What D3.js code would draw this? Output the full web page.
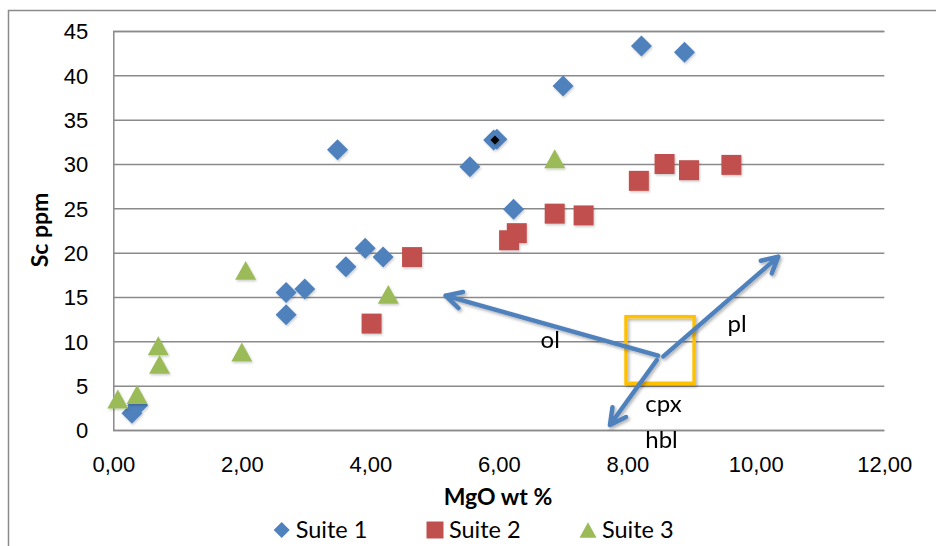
<!DOCTYPE html>
<html>
<head>
<meta charset="utf-8">
<script src="https://cdn.jsdelivr.net/npm/d3@7"></script>
<style>
  html, body { margin: 0; padding: 0; background: #fff; }
  svg { display: block; font-family: Lato, "Open Sans", sans-serif; }
</style>
</head>
<body>
<svg id="chart" width="936" height="546"></svg>
<script>
// Sc vs MgO for three suites
const suite1X = [0.29, 0.38, 2.69, 2.69, 2.98, 3.49, 3.62, 3.92, 4.20, 5.55, 5.92, 5.97, 6.23, 7.00, 8.22, 8.89];
const suite1Y = [1.9, 2.8, 15.5, 13.0, 15.9, 31.6, 18.4, 20.5, 19.5, 29.7, 32.7, 32.8, 24.9, 38.8, 43.3, 42.6];
const suite2X = [4.02, 4.65, 6.16, 6.28, 6.87, 7.32, 8.18, 8.58, 8.96, 9.62];
const suite2Y = [12.0, 19.5, 21.4, 22.2, 24.4, 24.2, 28.1, 30.0, 29.3, 29.9];
const suite3X = [0.07, 0.37, 0.70, 0.72, 2.00, 2.06, 4.28, 6.87];
const suite3Y = [3.5, 4.0, 9.5, 7.4, 8.8, 18.0, 15.3, 30.6];
// highlighted sample
const markedX = [5.94];
const markedY = [32.7];

const seriesNames = ["Suite 1", "Suite 2", "Suite 3"];
const xTicks = [0, 2, 4, 6, 8, 10, 12];
const yTicks = [0, 5, 10, 15, 20, 25, 30, 35, 40, 45];

// fractionation vectors (MgO, Sc)
const vectorFromX = [8.48, 8.56, 8.46];
const vectorFromY = [8.38, 8.30, 7.90];
const vectorToX = [5.17, 10.35, 7.73];
const vectorToY = [15.15, 19.55, 0.56];
const vectorLabels = ["ol", "pl", "cpx", "hbl"];
const vectorLabelX = [6.65, 9.56, 8.28, 8.28];
const vectorLabelY = [9.25, 11.09, 2.06, -2.03];
// starting composition box
const boxX = [7.98, 9.04];
const boxY = [5.27, 12.78];

const colors = ["#4F81BD", "#C0504D", "#9BBB59"];

const svg = d3.select("#chart");
const x = d3.scaleLinear().domain([0, 12]).range([113.3, 884.3]);
const y = d3.scaleLinear().domain([0, 45]).range([430, 31]);
const fmt = d3.formatLocale({decimal: ",", thousands: ".", grouping: [3], currency: ["", ""]}).format(".2f");

const defs = svg.append("defs");
const sh = defs.append("filter").attr("id", "shadow").attr("x", "-20%").attr("y", "-20%").attr("width", "140%").attr("height", "140%");
sh.append("feDropShadow").attr("dx", 1.5).attr("dy", 2).attr("stdDeviation", 1.8).attr("flood-color", "#000").attr("flood-opacity", 0.3);
const msh = defs.append("filter").attr("id", "mshadow").attr("x", "-30%").attr("y", "-30%").attr("width", "160%").attr("height", "160%");
msh.append("feDropShadow").attr("dx", 1).attr("dy", 1.5).attr("stdDeviation", 1).attr("flood-color", "#000").attr("flood-opacity", 0.2);

// chart frame
svg.append("rect").attr("x", 8.5).attr("y", 10.5).attr("width", 940).attr("height", 560)
  .attr("fill", "none").attr("stroke", "#8a8a8a").attr("stroke-width", 1.5);

// gridlines
const yAxis = d3.axisLeft(y).tickValues(yTicks).tickSize(-(x.range()[1] - x.range()[0])).tickPadding(25).tickFormat(d3.format("d"));
const gy = svg.append("g").attr("transform", `translate(${x.range()[0]},0)`).call(yAxis);
gy.select(".domain").attr("stroke", "#8a8a8a").attr("stroke-width", 1.5);
gy.selectAll(".tick line").attr("stroke", "#8a8a8a").attr("stroke-width", 1.5);
gy.selectAll(".tick text").attr("font-size", 22).attr("fill", "#000").attr("dy", "0.36em");

const xAxis = d3.axisBottom(x).tickValues(xTicks).tickSize(0).tickPadding(26).tickFormat(fmt);
const gx = svg.append("g").attr("transform", `translate(0,${y(0)})`).call(xAxis);
gx.select(".domain").remove();
gx.selectAll(".tick text").attr("font-size", 22).attr("fill", "#000");

// axis titles
svg.append("text").attr("transform", `translate(48,230) rotate(-90)`).attr("text-anchor", "middle")
  .attr("font-size", 23).attr("font-weight", "bold").text("Sc ppm");
svg.append("text").attr("x", 498).attr("y", 505).attr("text-anchor", "middle")
  .attr("font-size", 23).attr("font-weight", "bold").text("MgO wt %");

// marker symbols
const diamond = s => `M0,${-s}L${s},0L0,${s}L${-s},0Z`;
const square = s => `M${-s},${-s}H${s}V${s}H${-s}Z`;
const triangle = s => `M0,${-s * 0.9}L${s},${s * 0.9}L${-s},${s * 0.9}Z`;

function plotSeries(xs, ys, path, color) {
  svg.append("g").attr("filter", "url(#mshadow)").selectAll("path").data(xs).join("path")
    .attr("transform", (d, i) => `translate(${x(d)},${y(ys[i])})`)
    .attr("d", path).attr("fill", color);
}
plotSeries(suite1X, suite1Y, diamond(10.5), colors[0]);
plotSeries(markedX, markedY, diamond(4.5), "#000");
plotSeries(suite2X, suite2Y, square(10), colors[1]);
plotSeries(suite3X, suite3Y, triangle(10.5), colors[2]);

// starting composition box
svg.append("rect")
  .attr("x", x(boxX[0])).attr("y", y(boxY[1]))
  .attr("width", x(boxX[1]) - x(boxX[0])).attr("height", y(boxY[0]) - y(boxY[1]))
  .attr("fill", "none").attr("stroke", "#FFC000").attr("stroke-width", 3.5)
  .attr("filter", "url(#shadow)");

// vectors with open arrowheads
const ag = svg.append("g").attr("filter", "url(#shadow)");
vectorFromX.forEach((fx, i) => {
  const x1 = x(fx), y1 = y(vectorFromY[i]);
  const x2 = x(vectorToX[i]), y2 = y(vectorToY[i]);
  const ang = Math.atan2(y2 - y1, x2 - x1);
  const L = 18, a = Math.PI / 6.5;
  const w1 = [x2 - L * Math.cos(ang - a), y2 - L * Math.sin(ang - a)];
  const w2 = [x2 - L * Math.cos(ang + a), y2 - L * Math.sin(ang + a)];
  ag.append("path")
    .attr("d", `M${x1},${y1}L${x2},${y2}M${w1[0]},${w1[1]}L${x2},${y2}L${w2[0]},${w2[1]}`)
    .attr("fill", "none").attr("stroke", colors[0]).attr("stroke-width", 4.5)
    .attr("stroke-linecap", "round").attr("stroke-linejoin", "round");
});
svg.append("g").selectAll("text").data(vectorLabels).join("text")
  .attr("x", (d, i) => x(vectorLabelX[i])).attr("y", (d, i) => y(vectorLabelY[i]))
  .attr("font-size", 24).attr("fill", "#000").text(d => d);

// legend
const legendX = [281.7, 435, 588];
const legendShapes = [diamond(8), square(8.5), triangle(8.5)];
const lg = svg.append("g");
seriesNames.forEach((name, i) => {
  lg.append("path").attr("transform", `translate(${legendX[i]},530)`).attr("d", legendShapes[i]).attr("fill", colors[i]);
  lg.append("text").attr("x", legendX[i] + 14).attr("y", 537.5).attr("font-size", 23.5).attr("fill", "#000").text(name);
});
</script>
</body>
</html>
